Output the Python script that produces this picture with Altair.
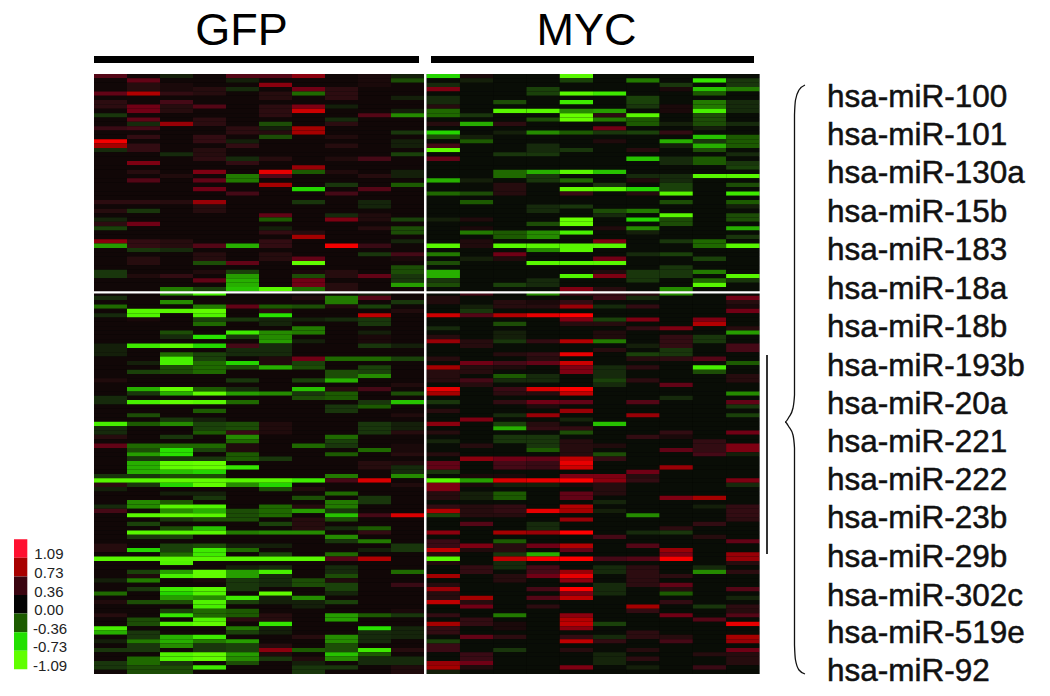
import altair as alt
import pandas as pd

N_ROWS = 138
COLOR_STOPS = [-1.09, -0.73, -0.36, 0.0, 0.36, 0.73, 1.09]
COLOR_HEX = ["#66ff00", "#22e000", "#1c5c00", "#050505", "#3a0a14", "#a00000", "#ff0000"]

LEGEND_LABELS = ["1.09", "0.73", "0.36", "0.00", "-0.36", "-0.73", "-1.09"]
LEGEND_SWATCH = ["#ff1030", "#a80000", "#3a0510", "#030303", "#1c5c00", "#22e000", "#60ff00"]

MIRNAS = ["hsa-miR-100", "hsa-miR-101", "hsa-miR-130a", "hsa-miR-15b", "hsa-miR-183", "hsa-miR-18a",
          "hsa-miR-18b", "hsa-miR-193b", "hsa-miR-20a", "hsa-miR-221", "hsa-miR-222", "hsa-miR-23b",
          "hsa-miR-29b", "hsa-miR-302c", "hsa-miR-519e", "hsa-miR-92"]
MIRNA_Y = [97.5, 135.5, 173.5, 212.5, 250.5, 289.5, 327.5, 366.5, 404.5, 442.5, 480.5, 518.5, 557.5, 596.5, 633.5, 671.5]

GFP = [
 {0:.45,6:.25,7:.25,4:.5,9:-.2,12:.35,15:1.05,16:.75,17:-.15,29:.25,31:.2,33:-.12,34:.25,35:-.25,38:.65,39:-.55,45:-.2,46:-.2,
  51:-.15,53:-.4,55:-.15,62:-.1,63:-.1,64:-.1,70:.15,74:-.15,75:-.15,80:-.9,81:-.15,82:-.15,83:.2,85:.5,92:-.2,93:-1.0,
  94:.25,95:-.1,99:-.15,100:.4,108:.2,109:.2,111:-1.0,116:-.1,119:-.4,121:.15,124:.2,127:-.9,128:-.6,130:-.1,132:-.2,135:-.2,136:-.2},
 {1:.5,2:.2,3:.2,4:.8,7:.55,8:.55,10:.5,11:-.15,12:.4,14:.3,16:.3,17:.3,20:.6,22:.2,24:.45,29:.25,31:-.2,34:.55,38:.3,39:.3,40:-.2,42:.2,43:.2,46:.15,
  54:-1.0,55:-.95,56:.1,62:-.85,66:-.1,68:-.25,72:-.6,73:-.2,75:-.9,78:-.3,80:-.35,85:-.4,86:-.3,87:-.55,88:-.2,89:-.6,90:-.6,91:-.6,92:-.2,93:-1.0,
  94:-.2,98:-.5,99:-.5,101:-1.0,103:-.25,105:-1.0,106:-.2,109:-.7,111:-1.0,114:-.25,115:.15,116:-.45,118:-.2,121:-.3,125:-.3,126:-.3,128:-.2,129:-.2,130:-.45,131:-.2,132:-.2,134:-.4,135:-.4,136:-.3,137:-.3},
 {0:-.1,2:.1,3:.1,4:.3,6:.4,7:.2,8:.2,11:.7,18:-.15,23:.15,29:.2,38:.2,39:.2,40:-.15,46:.3,49:-.45,
  50:-.5,52:-.5,54:-1.0,59:-.3,60:-.15,62:-1.0,64:-.4,65:-.9,66:-.9,67:-.3,68:-.3,72:-1.05,73:-.6,75:-1.05,79:-.2,80:-.5,83:-.2,85:-.4,86:-.75,87:-.75,88:-.2,89:-1.05,90:-1.05,91:-.65,92:-.3,93:-1.05,
  94:-.7,96:-.1,98:-.35,99:-1.0,100:-.5,101:-1.05,102:-.2,104:-.3,105:-1.0,106:-.25,108:-.25,109:-.25,110:-.4,111:-1.0,112:-.95,114:-.55,115:-.9,118:-.85,119:-.7,120:-.55,121:-.3,123:-.25,124:-.8,126:-.95,129:-.6,130:-.6,131:-.5,133:-.95,134:-.95,135:-.2,136:-.3,137:-.3},
 {3:.2,4:.2,7:.45,10:.25,11:.25,14:.3,15:.3,17:.2,18:.2,19:.25,22:.6,24:.5,26:.55,29:.7,30:.2,31:.2,39:.45,41:.2,42:.2,43:-.3,45:.15,47:.5,49:-.25,
  50:-.9,53:-.45,54:-1.05,55:-.95,56:-.25,57:-.4,60:-.75,62:-.7,64:-.25,65:-.25,66:-.4,67:-.4,68:-.4,72:-.35,73:-1.05,75:-1.0,77:-.35,79:-.1,80:-.25,81:-.25,82:-.35,85:-.4,86:-.25,88:-.2,89:-1.09,90:-1.09,91:-.7,92:-.3,93:-1.05,
  94:-1.05,96:-.1,97:-.2,99:-.95,100:-.6,101:-1.0,102:-.3,104:-.65,105:-1.0,108:-.3,109:-.85,110:-.85,111:-1.0,114:-1.05,115:-1.05,116:.1,118:-1.0,119:-.95,120:-.5,121:-.95,122:-.9,123:-.4,124:-.4,125:-.95,126:-1.05,129:-.85,130:-.45,131:-.2,132:-.2,133:-1.05,134:-1.05,136:-.85},
 {0:.45,1:-.1,3:-.15,12:.25,13:.25,15:-.1,16:.3,19:-.15,20:.3,23:-.45,24:-.45,27:.4,39:-.6,43:.5,45:-.25,46:-.55,47:-.6,48:-.6,49:-.65,
  53:.5,56:-.2,59:-.85,60:-.2,62:.4,63:-.15,64:-.15,66:-.7,67:-.3,70:-.2,72:-.15,73:-.55,75:-.4,80:-.3,81:-.3,82:.35,83:-.5,84:-.4,85:.15,86:.15,87:-.35,88:-.35,90:-.8,93:-1.0,
  94:-.5,100:-.3,101:-.3,102:-.3,105:-.45,108:-.1,109:-.4,111:-1.0,113:-.1,114:-.55,115:-.55,116:-.2,117:-.2,118:-.2,120:-.85,121:-.25,123:-.35,124:-.35,125:.25,127:-.45,128:-.25,130:-.55,131:-.25,132:-.25,133:-.55,134:-.5,135:-.3},
 {0:.45,2:.65,4:.2,5:.2,7:.25,8:.25,9:.25,11:-.3,12:-.1,13:.2,14:-.3,19:.2,22:1.0,23:.45,25:.75,32:.5,33:-.35,35:-.1,36:.3,38:.3,39:.3,41:.2,42:.2,49:-1.0,
  53:-.35,54:.25,55:-.75,56:-.12,57:-.12,59:-.5,60:-.5,61:-.55,62:-.15,63:-.15,64:-.15,65:.15,66:.15,67:-.6,73:-.5,80:.15,81:.15,82:.15,88:-.2,93:-1.0,
  94:-.7,95:-.3,99:-.4,100:-.4,101:-.4,103:-.25,105:-.5,108:-.1,110:-.25,111:-1.0,113:-.15,114:-.9,115:-.15,116:-.15,117:-.15,119:-1.05,120:-.1,121:-.1,124:.2,125:.2,126:-.8,127:-.1,128:-.1,131:.2,132:.65,133:.15,134:-.2},
 {0:.65,3:.55,4:-.4,7:.6,8:.9,12:.75,13:.75,21:.7,22:-.35,26:-.7,29:-.2,36:.2,37:.75,42:.5,43:-1.05,45:.1,46:-.3,47:.55,48:.55,49:-.4,
  51:.15,53:-.3,56:-.1,58:-.45,59:-.45,61:-.1,65:.55,66:-.25,67:-.3,70:-.25,72:-.65,73:-.2,74:-.3,85:-.4,93:-.85,
  95:.15,97:-.3,99:.2,100:-.55,102:.2,103:.2,104:.2,105:-.5,111:-1.0,116:-.3,117:-.3,120:-.5,121:-.1,122:-.1,129:.2,132:-.35,134:.15,135:-.1,136:-.2,137:-.2},
 {3:.25,4:.25,5:.25,7:-.1,10:-.15,11:.25,14:.15,16:.2,19:.15,22:.15,25:-.2,27:.4,32:-.15,33:.6,39:1.05,45:.2,46:.2,48:.2,49:.2,
  51:-.45,52:-.45,53:.15,56:-.15,65:-.4,68:-.3,69:-.3,70:-.6,72:.2,73:-.35,74:-.35,76:-.2,77:-.2,83:-.4,84:-.25,85:-.2,87:-.35,92:-.45,93:.4,
  96:-.4,98:-.45,99:-.45,100:-.2,101:-.65,102:-.3,104:-.15,106:-.5,107:-.2,110:-.4,111:.45,113:-.15,114:-.15,115:-.3,116:.15,117:-.25,118:-.25,119:-.12,121:-.25,124:-.55,125:-.55,129:-.5,130:-.5,131:-.3,132:-.3,133:-.65,134:-.5,136:-.2},
 {0:.1,1:.1,2:.1,9:.45,19:.4,23:.2,26:.45,29:-.12,30:-.12,32:.15,33:.15,35:.2,39:.35,41:-.2,46:.5,
  50:-.1,51:.45,53:-.25,55:.85,56:-.2,57:-.2,59:-.1,60:.1,61:.1,62:-.2,65:-.4,67:-.25,68:-.25,69:-.5,72:.4,75:-.2,76:-.35,80:-.2,81:-.2,82:-.2,86:-.4,89:.2,90:.2,93:.95,
  97:-.2,98:-.2,101:.4,104:-.35,105:.3,107:-.45,109:-.1,111:.8,124:-.35,127:-.75,128:-.15,129:-.15,130:-.15,132:-.85,133:-.35,134:-.15,135:-.15},
 {0:-.1,1:-.3,5:-.1,8:-.1,9:-.5,13:-.2,15:-.1,16:-.1,18:-.25,22:-.1,23:-.1,25:-.35,33:-.25,35:-.3,36:-.3,38:-.12,41:.4,42:.1,44:-.3,45:-.3,46:-.2,47:-.2,48:-.55,
  52:-.2,54:.15,62:-.1,65:-.25,71:.15,73:-.3,75:-.65,78:.15,80:-.1,81:-.1,82:.2,85:.1,86:.1,87:.2,89:.15,90:-.15,91:-.15,92:-.5,
  94:.15,101:.95,108:-.2,109:-.2,114:-.4,117:.35,123:.1,124:-.2,127:-.12,128:-.12,129:-.12,132:.2,134:-.15,135:-.15,136:.15,137:.15},
]

MYC = [
 {0:-.7,2:-.15,3:.6,5:-.15,6:-.15,7:.2,8:-.4,9:-.4,11:.2,13:-.7,14:-.3,16:.4,17:-1.05,19:.5,24:-.6,27:-.4,33:-.1,39:-1.0,41:-.45,43:-.3,45:-.6,46:-.6,47:-.2,48:-.3,
  51:.15,52:.15,55:.9,58:-.15,60:.2,61:.7,65:.2,67:.75,68:.2,69:.2,70:.2,72:1.0,73:.75,75:-.2,77:.2,80:.65,82:.2,84:-.12,87:.2,89:.5,90:.5,91:-.2,93:-1.0,
  94:.6,95:.6,96:.2,97:.2,99:.3,100:.8,101:-.25,105:.65,107:.35,108:.35,109:.85,110:.2,111:-1.0,112:.15,115:.75,117:.2,118:.7,119:.2,120:.2,121:.85,124:.3,126:.75,127:.3,128:.3,130:-.25,131:.35,132:.35,135:.7,136:.75,137:-.1},
 {0:.1,1:-.1,9:-.2,11:-.6,14:-.1,15:-.35,24:-.1,27:-.3,29:-.35,33:.15,35:.1,36:-.45,38:.15,39:.15,42:-.1,
  50:.4,53:-.1,54:-.2,55:.45,61:.2,62:.2,66:.55,67:.2,68:.2,70:.4,71:.2,79:.6,85:.2,88:.65,92:.1,93:-.55,
  94:.1,96:-.1,97:-.1,99:.2,100:.2,101:.2,103:.45,108:.6,109:.15,113:.3,114:.3,120:.75,121:.2,122:.55,125:.3,126:.3,129:.5,133:.35,134:.35,135:.55,136:.15},
 {6:-.3,8:-1.0,11:.25,13:-.1,18:-.2,22:-.4,23:-.4,25:.2,26:.2,27:.2,36:-.35,37:-.35,39:-1.0,41:.55,42:.15,48:-.25,
  52:.2,53:.2,55:.8,57:-.3,59:-.1,60:-.1,61:-.2,64:.2,66:.4,67:.15,69:-.35,70:-.15,72:.35,73:.25,75:.3,78:-.15,80:-.25,81:-.6,83:-.2,84:-.2,88:.55,89:.4,90:.4,92:.1,93:.95,
  94:-.1,96:-.35,97:-.35,99:.3,100:.3,101:.2,105:.75,107:-.35,108:.2,109:.2,110:-.2,111:.85,112:-.15,113:-.15,115:.2,116:.2,124:-.45,126:.1,127:.1,129:.25,132:-.2},
 {3:-.25,4:-.25,8:-1.0,10:-.3,13:-.5,16:-.15,17:-.15,18:-.2,22:-.6,23:-.2,24:-.2,30:-.15,31:-.15,34:-.3,36:-.5,37:-.5,39:-1.0,40:-.5,43:-1.0,47:-.15,48:-.15,
  50:-.5,52:.1,53:.2,55:1.0,61:.3,64:.3,65:.2,66:.5,69:-.15,70:-.15,72:.95,73:.2,75:.55,76:.15,78:.7,80:.2,81:.3,83:-.2,84:-.2,85:-.2,86:-.35,88:.5,89:.35,90:.35,93:1.0,
  94:-.1,100:1.0,103:-.15,104:-.15,105:.7,108:.55,110:-.6,111:1.05,113:.4,114:.4,115:.55,118:.4,120:.45,122:.25},
 {0:-1.0,1:-.25,4:-1.0,6:-.85,8:-.5,9:-1.09,10:-1.09,13:-.35,17:-.2,22:-1.0,24:-.4,26:-1.05,27:.35,30:-.2,33:-1.09,34:-1.09,36:-.9,39:-1.0,40:-1.0,43:-1.0,46:-.95,49:.6,
  50:.35,52:.3,53:.7,55:1.09,56:.6,57:.2,61:.8,64:1.0,66:.9,67:.6,68:.6,72:1.09,73:.85,75:.5,77:.7,79:-.12,81:.3,82:-.3,84:.2,85:.2,86:.2,87:.2,88:.85,89:1.0,90:.9,92:.6,93:1.09,
  94:.1,96:.5,97:.5,99:.8,100:.75,102:.7,105:1.09,108:.8,109:.5,111:1.09,114:.7,115:1.0,116:.65,118:1.09,119:.6,120:.85,124:.65,125:.8,126:.85,127:.65,129:.3,130:.85,132:.2,136:.6},
 {4:-.85,8:-.55,9:.25,10:-.45,12:.55,13:-.2,15:.15,22:-.65,25:-.2,26:-1.0,31:-.3,32:-.15,35:.15,38:.6,39:-1.0,42:.55,43:-1.0,45:.15,46:.6,49:.2,
  50:.3,51:.35,53:-.15,56:-.25,57:.2,59:.15,60:.15,61:-.45,63:.2,67:-.15,68:-.15,69:-.15,70:-.25,71:-.15,80:-.65,85:.15,87:-.3,88:.3,92:.6,93:.65,
  94:.2,95:.2,96:.2,98:-.12,100:-.1,106:.4,111:.4,113:-.15,114:-.15,117:-.15,118:-.15,119:-.15,126:-.25,129:-.15,130:.3,133:-.12,134:-.12,135:-.12},
 {1:-.45,5:-.25,6:-.25,7:-.2,9:-1.0,10:-.35,11:-.35,13:-.25,17:.2,19:-.65,23:-.15,24:.15,26:-.7,27:.2,31:-.45,33:-.7,35:-.5,36:-.1,41:-.15,45:-.2,46:-.2,47:-.2,
  50:.25,51:-.15,53:.3,56:.6,58:.3,62:-.1,64:-.25,65:.2,67:.25,70:.25,75:.45,78:.7,83:.3,91:.55,92:.2,93:.3,
  101:-.5,105:-.15,108:.45,111:.45,113:.25,114:.25,115:.25,116:.25,117:.25,122:.75,123:.3,128:.25,129:.25,132:.2,134:.25,136:-.1},
 {2:-.2,3:.1,7:.1,8:.1,11:-.1,13:.3,15:-.6,16:-.1,19:-.15,20:-.15,23:-.15,24:-.15,25:-.25,26:-.25,27:-1.0,29:-.3,32:-1.0,33:-.3,34:-.3,38:-.2,41:-.25,44:-.2,45:-.2,46:-.2,49:-.5,
  50:-.5,58:.6,60:.3,61:.3,62:.3,63:-.2,64:-.2,65:.25,71:.5,74:-.15,82:.3,83:.1,86:.5,90:.7,
  97:.6,104:.25,105:-.2,109:.7,110:.6,111:1.05,115:.25,117:.5,118:.2,119:-.35,121:.3,124:.55,129:.2,130:.4},
 {1:-.8,3:-.65,4:-.35,6:-.45,7:-.45,8:-.9,9:-.3,10:-.3,11:-.3,12:-.1,14:-.65,15:-.2,16:-.6,17:-.3,19:-.35,20:-.35,23:-1.0,38:-.4,39:-.4,42:-.25,45:-.45,47:-.4,48:-1.0,
  56:.6,57:.8,60:-.2,61:-.2,65:.45,67:-.9,68:-.3,84:.3,85:.3,86:.3,87:.4,
  97:.75,99:-.1,103:.3,106:.2,113:-.15,114:-.5,122:-.2,125:.45,133:.2,136:.35},
 {1:-.2,2:-.2,3:-.45,6:-.15,7:-.15,8:-.15,11:-.15,14:-.35,15:-.35,16:-.35,18:-.15,20:-.2,21:-.25,23:-1.0,25:-.3,27:-.85,29:-.35,30:-.1,32:-.3,33:-.3,35:-.6,37:-.2,39:-1.0,46:-1.0,47:-.2,
  51:.55,52:.2,53:.1,54:.55,58:.2,59:-.55,62:.4,63:.4,66:-.35,69:.2,70:.2,73:-.5,75:.5,76:-.2,78:-.25,82:.55,85:.6,86:.6,87:-.1,
  93:.6,94:-.15,99:.3,100:.3,101:.3,102:.25,107:.5,110:.7,111:.7,112:.2,114:.25,118:.45,120:-.12,122:.25,123:.2,124:.45,126:1.0,129:.75,130:.7,132:.55,133:.2,134:.2,135:.2},
]

BACKGROUND = {"GFP": 0.05, "MYC": -0.02}

# page-pixel layout
PX_X0, PX_COL = 94.0, 33.0
PX_Y0, PX_ROW = 74.0, 600.0 / N_ROWS
W, H = 1034, 680
MYC_START = (426.7 - PX_X0) / PX_COL
MYC_WIDTH = 33.27 / PX_COL

records = []
for panel, cols in (("GFP", GFP), ("MYC", MYC)):
    for c, col in enumerate(cols):
        for r in range(N_ROWS):
            v = col.get(r, BACKGROUND[panel])
            if panel == "GFP":
                x1, x2 = c, c + 1
            else:
                x1, x2 = MYC_START + c * MYC_WIDTH, MYC_START + (c + 1) * MYC_WIDTH
            records.append({"x1": x1, "x2": x2, "r1": r, "r2": r + 1, "v": v})
heat_df = pd.DataFrame(records)

x_heat = alt.Scale(domain=[(8 - PX_X0) / PX_COL, (8 + W - PX_X0) / PX_COL], nice=False, zero=False)
y_heat = alt.Scale(domain=[(8 + H - PX_Y0) / PX_ROW, (8 - PX_Y0) / PX_ROW], nice=False, zero=False)
c_scale = alt.Scale(domain=COLOR_STOPS, range=COLOR_HEX)

backing_df = pd.DataFrame({"x1": [0, MYC_START], "x2": [10, MYC_START + 10 * MYC_WIDTH], "r1": [0, 0], "r2": [N_ROWS, N_ROWS]})
backing = alt.Chart(backing_df).mark_rect(color="#060606").encode(
    x=alt.X("x1:Q", scale=x_heat, axis=None),
    x2="x2:Q",
    y=alt.Y("r1:Q", scale=y_heat, axis=None),
    y2="r2:Q",
)
cells = alt.Chart(heat_df).mark_rect().encode(
    x=alt.X("x1:Q", scale=x_heat, axis=None),
    x2="x2:Q",
    y=alt.Y("r1:Q", scale=y_heat, axis=None),
    y2="r2:Q",
    color=alt.Color("v:Q", scale=c_scale, legend=None),
)
heat = alt.layer(backing, cells)

# annotation layers use page pixel scale
x_px = alt.Scale(domain=[8, 8 + W], nice=False, zero=False)
y_px = alt.Scale(domain=[8 + H, 8], nice=False, zero=False)
X = lambda f: alt.X(f, scale=x_px, axis=None)
Y = lambda f: alt.Y(f, scale=y_px, axis=None)

blocks = pd.DataFrame([
    {"a": 94, "b": 424, "t": 291.2, "u": 293.6, "c": "#ffffff"},
    {"a": 94, "b": 419, "t": 56, "u": 63, "c": "#000000"},
    {"a": 431, "b": 754, "t": 56, "u": 63, "c": "#000000"},
    {"a": 426, "b": 760, "t": 291.2, "u": 293.6, "c": "#ffffff"},
])
rects = alt.Chart(blocks).mark_rect().encode(
    x=X("a:Q"), x2="b:Q", y=Y("t:Q"), y2="u:Q", color=alt.Color("c:N", scale=None))

swatch_df = pd.DataFrame({
    "c": LEGEND_SWATCH,
    "t": [539.3 + 18.57 * i for i in range(7)],
    "u": [539.3 + 18.57 * (i + 1) for i in range(7)],
    "a": 14, "b": 27.3,
})
swatches = alt.Chart(swatch_df).mark_rect().encode(
    x=X("a:Q"), x2="b:Q", y=Y("t:Q"), y2="u:Q", color=alt.Color("c:N", scale=None))

legend_df = pd.DataFrame({
    "s": LEGEND_LABELS,
    "y": [554, 573, 592, 610, 629, 647, 666],
    "x": [34.3, 34.3, 34.3, 34.3, 33, 33, 33],
})
legend_text = alt.Chart(legend_df).mark_text(
    font="Liberation Sans", fontSize=15, align="left", baseline="middle", color="#222222"
).encode(x=X("x:Q"), y=Y("y:Q"), text="s:N")

heads = pd.DataFrame({"s": ["GFP", "MYC"], "x": [241.5, 586.5], "y": [44.5, 44.5]})
head_text = alt.Chart(heads).mark_text(
    font="Liberation Sans", fontSize=45, align="center", baseline="alphabetic", color="#000000"
).encode(x=X("x:Q"), y=Y("y:Q"), text="s:N")

mir_df = pd.DataFrame({"s": MIRNAS, "y": MIRNA_Y, "x": 827})
mir_text = alt.Chart(mir_df).mark_text(
    font="Liberation Sans", fontSize=31.5, align="left", baseline="middle", color="#111111",
    stroke="#111111", strokeWidth=0.5
).encode(x=X("x:Q"), y=Y("y:Q"), text="s:N")

vline = alt.Chart(pd.DataFrame({"x": [767, 767], "y": [355, 554], "o": [0, 1]})).mark_line(
    color="#000000", strokeWidth=1.6
).encode(x=X("x:Q"), y=Y("y:Q"), order="o:Q")

BRACE_X = [805, 799, 795.5, 794.5, 794.5, 793, 789, 785, 789, 793, 794.5, 794.5, 795.5, 799, 805]
BRACE_Y = [85, 90, 100, 115, 395, 408, 417, 422, 427, 435, 448, 645, 660, 670, 674]
brace = alt.Chart(pd.DataFrame({"x": BRACE_X, "y": BRACE_Y, "o": range(len(BRACE_X))})).mark_line(
    color="#111111", strokeWidth=1.3, interpolate="monotone", orient="vertical"
).encode(x=X("x:Q"), y=Y("y:Q"), order="o:Q")

annot = alt.layer(rects, swatches, legend_text, head_text, mir_text, vline, brace)

chart = alt.layer(heat, annot).resolve_scale(
    x="independent", y="independent", color="independent"
).properties(width=W, height=H, padding=0, background="#ffffff",
            autosize=alt.AutoSizeParams(type="none")
).configure_view(stroke=None)

chart.save("out.html", embed_options={"renderer": "svg", "actions": False})
